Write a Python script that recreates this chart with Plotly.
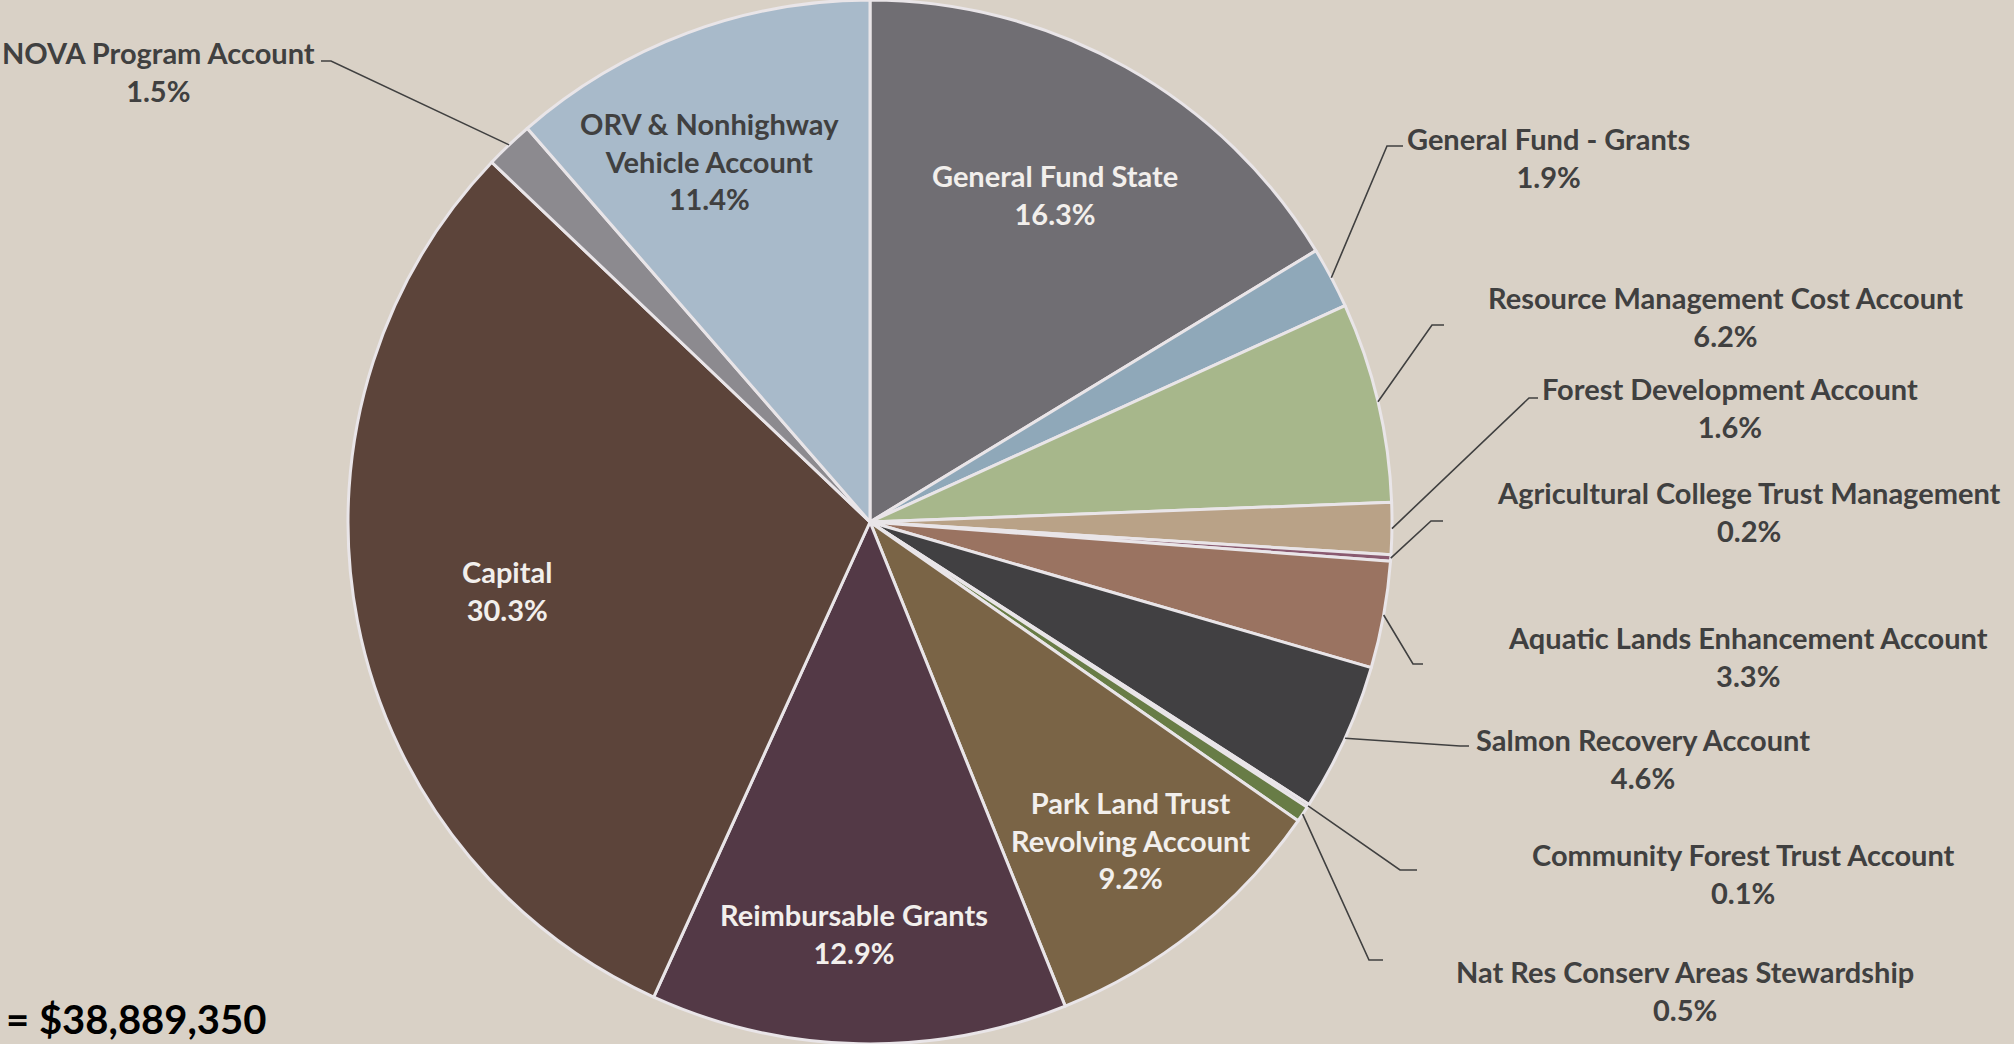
import math
import plotly.graph_objects as go

# ---------------- data ----------------
labels = [
    "General Fund State",
    "General Fund - Grants",
    "Resource Management Cost Account",
    "Forest Development Account",
    "Agricultural College Trust Management",
    "Aquatic Lands Enhancement Account",
    "Salmon Recovery Account",
    "Community Forest Trust Account",
    "Nat Res Conserv Areas Stewardship",
    "Park Land Trust Revolving Account",
    "Reimbursable Grants",
    "Capital",
    "NOVA Program Account",
    "ORV & Nonhighway Vehicle Account",
]
values = [16.3, 1.9, 6.2, 1.6, 0.2, 3.3, 4.6, 0.1, 0.5, 9.2, 12.9, 30.3, 1.5, 11.4]
total_text = "= $38,889,350"

# ---------------- style ----------------
colors = [
    "#706E73", "#8FA8B9", "#A7B78B", "#B9A287", "#8A5A70", "#9A7361", "#414042",
    "#A5A5A5", "#687C46", "#7A6446", "#533946", "#5C443A", "#8C8A8F", "#A8BACA",
]
BG = "#D9D1C6"
DARK = "#404040"
LIGHT = "#F2EFEC"
FONT = "Lato"

W, H = 2014, 1044
CX, CY, R = 870, 522, 522

# inside labels: display text, centre (px), colour
inside = {
    "General Fund State": ("General Fund State", 1055, 194, LIGHT),
    "ORV & Nonhighway Vehicle Account": ("ORV & Nonhighway<br>Vehicle Account", 709, 161, DARK),
    "Capital": ("Capital", 507, 590, LIGHT),
    "Reimbursable Grants": ("Reimbursable Grants", 854, 933, LIGHT),
    "Park Land Trust Revolving Account": ("Park Land Trust<br>Revolving Account", 1130, 840, LIGHT),
}
# outside labels: text centre (px), tick end at text side x, elbow x, elbow y
outside = {
    "NOVA Program Account": (158, 71, 321, 331, 61),
    "General Fund - Grants": (1548, 157, 1403, 1387, 146),
    "Resource Management Cost Account": (1725, 316, 1444, 1432, 325),
    "Forest Development Account": (1730, 407, 1538, 1529, 398),
    "Agricultural College Trust Management": (1749, 512, 1443, 1431, 521),
    "Aquatic Lands Enhancement Account": (1748, 656, 1423, 1413, 664),
    "Salmon Recovery Account": (1643, 758, 1469, 1460, 746),
    "Community Forest Trust Account": (1743, 873, 1417, 1400, 870),
    "Nat Res Conserv Areas Stewardship": (1685, 990, 1383, 1369, 960),
}


def px(x, y):
    return x / W, 1 - y / H


fig = go.Figure(
    go.Pie(
        labels=labels,
        values=values,
        sort=False,
        direction="clockwise",
        rotation=0,
        marker=dict(colors=colors, line=dict(color="#E9E5E8", width=3)),
        textinfo="none",
        hoverinfo="label+percent",
        showlegend=False,
        domain=dict(x=[(CX - R) / W, (CX + R) / W], y=[0, 1]),
    )
)

tot = sum(values)
cum = 0.0
annotations = []
shapes = []
for lab, v in zip(labels, values):
    mid = (cum + v / 2) / tot * 2 * math.pi
    cum += v
    pct = f"{v / tot * 100:.1f}%"
    if lab in inside:
        t, x, y, c = inside[lab]
        ax, ay = px(x, y)
        annotations.append(dict(
            x=ax, y=ay, xref="paper", yref="paper", text=f"{t}<br>{pct}",
            showarrow=False, xanchor="center", yanchor="middle",
            font=dict(family=FONT, size=29, color=c, weight="bold"),
        ))
    else:
        x, y, tx, ex, ey = outside[lab]
        ax, ay = px(x, y)
        annotations.append(dict(
            x=ax, y=ay, xref="paper", yref="paper", text=f"{lab}<br>{pct}",
            showarrow=False, xanchor="center", yanchor="middle",
            font=dict(family=FONT, size=29, color=DARK, weight="bold"),
        ))
        sx = CX + R * math.sin(mid)
        sy = CY - R * math.cos(mid)
        p0 = px(sx, sy)
        p1 = px(ex, ey)
        p2 = px(tx, ey)
        shapes.append(dict(
            type="path", xref="paper", yref="paper",
            path=f"M {p0[0]},{p0[1]} L {p1[0]},{p1[1]} L {p2[0]},{p2[1]}",
            line=dict(color=DARK, width=1.6),
        ))

tx_, ty_ = px(4, 1019)
annotations.append(dict(
    x=tx_, y=ty_, xref="paper", yref="paper", text=total_text, showarrow=False,
    xanchor="left", yanchor="middle",
    font=dict(family=FONT, size=40, color="#000000", weight="bold"),
))

fig.update_layout(
    width=W, height=H,
    margin=dict(l=0, r=0, t=0, b=0),
    paper_bgcolor=BG, plot_bgcolor=BG,
    annotations=annotations, shapes=shapes,
)
fig.write_html(
    "out.html",
    config={"displayModeBar": False},
    post_script="document.body.style.margin='0';document.body.style.background='" + BG + "';",
)
